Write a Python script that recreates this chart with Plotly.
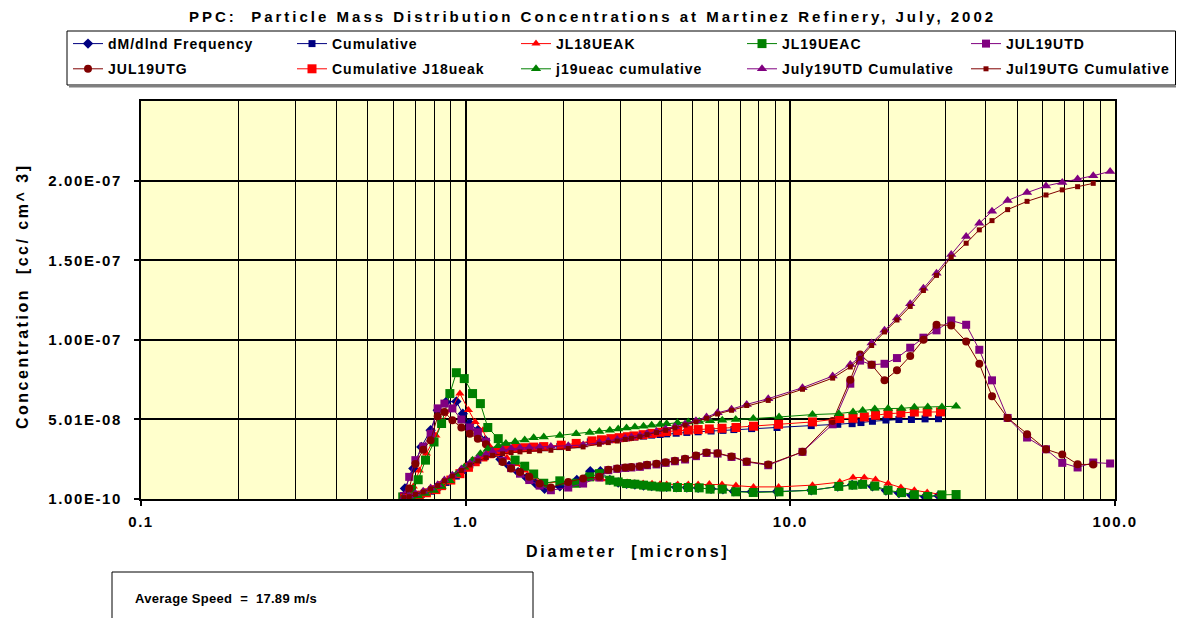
import plotly.graph_objects as go

# ---------------- data ----------------
DIAM_NAVY = [0.65, 0.69, 0.73, 0.78, 0.82, 0.87, 0.936, 0.98, 1.03, 1.09, 1.15, 1.21, 1.28, 1.36, 1.45, 1.54, 1.64, 1.75,
             1.95, 2.2, 2.42, 2.6, 2.78, 2.95, 3.13, 3.32, 3.53, 3.74, 3.97, 4.16, 4.45, 4.8, 5.2, 5.7, 6.2, 6.7, 7.6,
             9.1, 11.6, 14.0, 15.5, 16.5, 17.9, 19.7, 21.6, 23.6, 26.0, 28.6]
FREQ_DMDLND = [6.7e-9, 1.93e-8, 3.28e-8, 4.33e-8, 5.58e-8, 6.1e-8, 6.14e-8, 5.37e-8, 4.75e-8, 4.33e-8, 3.7e-8, 3.0e-8,
               2.5e-8, 2.1e-8, 1.7e-8, 1.35e-8, 1.0e-8, 6.5e-9,
               8e-9, 1.2e-8, 1.75e-8, 1.75e-8, 1.2e-8, 1.05e-8, 9.6e-9, 9.2e-9, 8.6e-9, 8.2e-9, 7.9e-9, 7.7e-9, 7.5e-9,
               7.3e-9, 7.1e-9, 6.5e-9, 6.2e-9, 5.0e-9, 4.6e-9, 4.8e-9, 5.6e-9, 7.9e-9, 9.0e-9, 9.6e-9, 8.0e-9, 5.4e-9,
               3.8e-9, 2.5e-9, 1.5e-9, 2.2e-9]
CUM_NAVY = [5e-10, 1.5e-9, 3e-9, 5e-9, 7.5e-9, 1.05e-8, 1.45e-8, 1.8e-8, 2.15e-8, 2.45e-8, 2.7e-8, 2.85e-8, 2.97e-8,
            3.06e-8, 3.13e-8, 3.18e-8, 3.21e-8, 3.23e-8,
            3.3e-8, 3.42e-8, 3.6e-8, 3.7e-8, 3.75e-8, 3.8e-8, 3.85e-8, 3.9e-8, 3.96e-8, 4.02e-8, 4.06e-8, 4.1e-8,
            4.14e-8, 4.19e-8, 4.23e-8, 4.28e-8, 4.32e-8, 4.37e-8, 4.43e-8, 4.5e-8, 4.62e-8, 4.7e-8, 4.74e-8, 4.81e-8,
            4.89e-8, 4.97e-8, 5.0e-8, 5.0e-8, 5.04e-8, 5.05e-8]

DIAM_J18 = [0.65, 0.69, 0.72, 0.757, 0.81, 0.843, 0.90, 0.96, 1.02, 1.07, 1.13, 1.185, 1.26, 1.34, 1.43, 1.52, 1.62, 1.74,
            1.97, 2.19, 2.45, 2.62, 2.8, 2.97, 3.15, 3.3, 3.52, 3.75, 3.97, 4.16, 4.5, 4.85, 5.2, 5.63, 6.16, 6.8, 7.7,
            9.2, 11.7, 14.2, 15.6, 16.9, 18.3, 20.0, 21.9, 24.1, 26.4, 29.0]
FREQ_JL18UEAK = [3e-9, 8e-9, 1.8e-8, 2.87e-8, 4.0e-8, 4.85e-8, 5.6e-8, 6.63e-8, 5.6e-8, 4.85e-8, 4.33e-8, 3.32e-8,
                 3.07e-8, 2.6e-8, 2.2e-8, 1.8e-8, 1.4e-8, 1.0e-8,
                 1.1e-8, 1.05e-8, 1.3e-8, 1.25e-8, 1.15e-8, 1.1e-8, 1.05e-8, 1.0e-8, 9.8e-9, 9.6e-9, 9.4e-9, 9.2e-9,
                 9.2e-9, 9.2e-9, 9.2e-9, 9.5e-9, 9.2e-9, 8.5e-9, 7.7e-9, 7.7e-9, 8.8e-9, 1.07e-8, 1.36e-8, 1.36e-8,
                 1.23e-8, 9.8e-9, 7.3e-9, 5.6e-9, 4.2e-9, 3.0e-9]
CUM_J18 = [5e-10, 1.2e-9, 2.5e-9, 4e-9, 6e-9, 8.5e-9, 1.2e-8, 1.6e-8, 2.0e-8, 2.35e-8, 2.65e-8, 2.85e-8, 3.0e-8, 3.1e-8,
           3.18e-8, 3.23e-8, 3.27e-8, 3.3e-8,
           3.39e-8, 3.5e-8, 3.66e-8, 3.73e-8, 3.8e-8, 3.86e-8, 3.92e-8, 3.97e-8, 4.05e-8, 4.13e-8, 4.2e-8, 4.25e-8,
           4.3e-8, 4.34e-8, 4.37e-8, 4.41e-8, 4.45e-8, 4.5e-8, 4.58e-8, 4.7e-8, 4.85e-8, 5.06e-8, 5.08e-8, 5.16e-8,
           5.27e-8, 5.37e-8, 5.41e-8, 5.47e-8, 5.47e-8, 5.48e-8]

DIAM_J19 = [0.64, 0.68, 0.714, 0.752, 0.799, 0.843, 0.894, 0.936, 0.99, 1.05, 1.11, 1.17, 1.26, 1.33, 1.42, 1.52, 1.62,
            1.74, 1.95, 2.19, 2.41, 2.58, 2.78, 2.95, 3.13, 3.32, 3.53, 3.74, 3.97, 4.16, 4.49, 4.85, 5.24, 5.66, 6.17,
            6.79, 7.69, 9.23, 11.7, 14.1, 15.6, 16.7, 18.2, 20.0, 22.0, 24.1, 26.5, 29.3, 32.4]
FREQ_JL19UEAC = [1.4e-9, 6.1e-9, 1.22e-8, 2.45e-8, 3.59e-8, 4.75e-8, 6.63e-8, 7.94e-8, 7.57e-8, 6.63e-8, 6.0e-8, 4.5e-8,
                 3.8e-8, 3.28e-8, 2.45e-8, 2.07e-8, 1.58e-8, 1.0e-8, 1.15e-8, 1.0e-8, 1.4e-8, 1.6e-8,
                 1.19e-8, 1.08e-8, 9.8e-9, 9.4e-9, 8.8e-9, 8.2e-9, 7.7e-9, 7.7e-9, 7.3e-9, 7.3e-9, 7.1e-9, 6.3e-9,
                 6.3e-9, 4.6e-9, 4.2e-9, 4.6e-9, 5.6e-9, 8.0e-9, 8.8e-9, 9.3e-9, 8.2e-9, 5.6e-9, 4.1e-9, 2.8e-9,
                 1.7e-9, 2.7e-9, 2.9e-9]
CUM_J19 = [5e-10, 1e-9, 2e-9, 3.5e-9, 5.5e-9, 8e-9, 1.15e-8, 1.55e-8, 2.0e-8, 2.45e-8, 2.85e-8, 3.15e-8, 3.35e-8, 3.5e-8,
           3.6e-8, 3.72e-8, 3.85e-8, 3.9e-8, 4.0e-8, 4.1e-8, 4.18e-8, 4.25e-8,
           4.33e-8, 4.4e-8, 4.47e-8, 4.53e-8, 4.58e-8, 4.64e-8, 4.69e-8, 4.74e-8, 4.8e-8, 4.85e-8, 4.88e-8, 4.92e-8,
           4.96e-8, 5.0e-8, 5.06e-8, 5.16e-8, 5.31e-8, 5.37e-8, 5.47e-8, 5.56e-8, 5.66e-8, 5.69e-8, 5.7e-8, 5.77e-8,
           5.78e-8, 5.79e-8, 5.83e-8]

DIAM_UTD = [0.645, 0.67, 0.70, 0.74, 0.78, 0.82, 0.86, 0.91, 0.97, 1.03, 1.09, 1.155, 1.21, 1.30, 1.38, 1.47, 1.57,
            1.69, 1.83, 2.07, 2.30, 2.58, 2.75, 2.93, 3.10, 3.24, 3.44, 3.62, 3.87, 4.13, 4.41, 4.74, 5.12, 5.52, 5.97,
            6.59, 7.34, 8.55, 10.9, 13.5, 15.3, 16.4, 17.8, 19.5, 21.3, 23.4, 25.7, 28.2, 31.3, 34.8, 38.2, 41.8,
            46.7, 53.6, 61.3, 68.8, 76.7, 85.7, 96.6]
FREQ_JUL19UTD = [2e-9, 1.4e-8, 2.45e-8, 3.3e-8, 4.1e-8, 5.7e-8, 6.0e-8, 5.7e-8, 5.0e-8, 4.5e-8, 4.2e-8, 3.6e-8, 3.0e-8,
                 2.4e-8, 1.95e-8, 1.6e-8, 1.2e-8, 8.5e-9, 5.6e-9, 7.3e-9, 9.8e-9, 1.36e-8, 1.82e-8, 1.9e-8, 1.96e-8,
                 1.99e-8, 2.03e-8, 2.13e-8, 2.18e-8, 2.28e-8, 2.38e-8, 2.49e-8, 2.7e-8, 2.9e-8, 2.86e-8, 2.65e-8,
                 2.34e-8, 2.13e-8, 2.97e-8, 4.7e-8, 7.25e-8, 8.7e-8, 8.44e-8, 8.5e-8, 8.86e-8, 9.51e-8, 1.014e-7,
                 1.06e-7, 1.122e-7, 1.095e-7, 9.38e-8, 7.46e-8, 5.1e-8, 3.87e-8, 3.13e-8, 2.28e-8, 1.99e-8, 2.3e-8,
                 2.24e-8]
CUM_UTD = [1e-9, 2e-9, 3.5e-9, 5e-9, 7e-9, 9e-9, 1.2e-8, 1.5e-8, 1.9e-8, 2.25e-8, 2.55e-8, 2.8e-8, 2.97e-8, 3.1e-8,
           3.18e-8, 3.22e-8, 3.25e-8, 3.28e-8, 3.3e-8, 3.35e-8, 3.4e-8, 3.55e-8, 3.65e-8, 3.75e-8, 3.83e-8, 3.9e-8,
           4.0e-8, 4.12e-8, 4.25e-8, 4.4e-8, 4.55e-8, 4.72e-8, 4.92e-8, 5.16e-8, 5.42e-8, 5.65e-8, 5.95e-8, 6.31e-8,
           7.0e-8, 7.73e-8, 8.45e-8, 8.92e-8, 9.8e-8, 1.06e-7, 1.137e-7, 1.227e-7, 1.325e-7, 1.419e-7, 1.536e-7,
           1.649e-7, 1.732e-7, 1.808e-7, 1.875e-7, 1.925e-7, 1.967e-7, 1.988e-7, 2.011e-7, 2.031e-7, 2.058e-7]

DIAM_UTG = [0.645, 0.67, 0.70, 0.74, 0.78, 0.82, 0.86, 0.91, 0.97, 1.03, 1.09, 1.155, 1.21, 1.30, 1.38, 1.47, 1.57,
            1.69, 1.83, 2.07, 2.30, 2.58, 2.75, 2.93, 3.10, 3.24, 3.44, 3.62, 3.87, 4.13, 4.41, 4.74, 5.12, 5.52, 5.97,
            6.59, 7.34, 8.55, 10.9, 13.5, 15.3, 16.4, 17.8, 19.5, 21.3, 23.4, 25.7, 28.2, 31.3, 34.8, 38.2, 41.8,
            46.7, 53.6, 61.3, 68.8, 76.7, 85.7]
FREQ_JUL19UTG = [1.4e-9, 6.7e-9, 2.2e-8, 3.1e-8, 3.7e-8, 5.2e-8, 5.47e-8, 4.95e-8, 4.5e-8, 4.1e-8, 3.8e-8, 3.45e-8,
                 2.87e-8, 2.34e-8, 1.92e-8, 1.71e-8, 1.4e-8, 9.8e-9, 7.3e-9, 1.08e-8, 1.3e-8, 1.4e-8, 1.85e-8, 1.93e-8,
                 1.99e-8, 2.02e-8, 2.07e-8, 2.16e-8, 2.22e-8, 2.31e-8, 2.41e-8, 2.53e-8, 2.74e-8, 2.93e-8, 2.89e-8,
                 2.68e-8, 2.37e-8, 2.18e-8, 2.97e-8, 4.91e-8, 7.5e-8, 9.09e-8, 8.44e-8, 7.46e-8, 8.09e-8, 8.99e-8,
                 1.001e-7, 1.095e-7, 1.091e-7, 9.9e-8, 8.5e-8, 6.46e-8, 5.1e-8, 4.08e-8, 3.13e-8, 2.8e-8, 2.19e-8,
                 2.17e-8]
CUM_UTG = [1e-9, 1.5e-9, 3e-9, 4.5e-9, 6.5e-9, 8.5e-9, 1.15e-8, 1.45e-8, 1.8e-8, 2.15e-8, 2.4e-8, 2.6e-8, 2.75e-8,
           2.85e-8, 2.92e-8, 2.97e-8, 3.0e-8, 3.04e-8, 3.07e-8, 3.18e-8, 3.28e-8, 3.45e-8, 3.55e-8, 3.65e-8, 3.75e-8,
           3.82e-8, 3.92e-8, 4.05e-8, 4.18e-8, 4.32e-8, 4.48e-8, 4.65e-8, 4.85e-8, 5.08e-8, 5.35e-8, 5.58e-8,
           5.88e-8, 6.2e-8, 6.9e-8, 7.6e-8, 8.3e-8, 8.85e-8, 9.65e-8, 1.05e-7, 1.125e-7, 1.21e-7, 1.31e-7, 1.405e-7,
           1.52e-7, 1.607e-7, 1.691e-7, 1.749e-7, 1.818e-7, 1.87e-7, 1.91e-7, 1.942e-7, 1.962e-7, 1.983e-7]

Y_TICK_VALS = [1.0e-10, 5.01e-8, 1.0001e-7, 1.5001e-7, 2.0001e-7]
Y_TICK_TEXT = ["1.00E-10", "5.01E-08", "1.00E-07", "1.50E-07", "2.00E-07"]
Y_RANGE = [1.0e-10, 2.5001e-7]
X_TICK_VALS = [0.1, 1.0, 10.0, 100.0]
X_TICK_TEXT = ["0.1", "1.0", "10.0", "100.0"]

TITLE = "PPC:  Particle Mass Distribution Concentrations at Martinez Refinery, July, 2002"
X_TITLE = "Diameter  [microns]"
Y_TITLE = "Concentration  [cc/ cm^ 3]"
NOTE = "Average Speed  =  17.89 m/s"

# ---------------- styling ----------------
FONT = "Liberation Sans, Arial, sans-serif"
OFF = 8                       # page body margin on every side
W, H = 1184 - 2 * OFF, 626 - 2 * OFF
PL, PR, PT, PB = 141, 1115, 101, 499   # plot area in page pixels


def sp(text, ls):
    return f'<span style="letter-spacing:{ls}px">{text}</span>'


def fx(p):
    return (p - PL) / (PR - PL)


def fy(p):
    return (PB - p) / (PB - PT)


NAVY, RED, GREEN, PURPLE, MAROON = "#000080", "#FF0000", "#008000", "#800080", "#800000"

series = [
    ("dM/dlnd Frequency", DIAM_NAVY, FREQ_DMDLND, NAVY, "diamond", 8),
    ("Cumulative", DIAM_NAVY, CUM_NAVY, NAVY, "square", 7),
    ("JL18UEAK", DIAM_J18, FREQ_JL18UEAK, RED, "triangle-up", 8),
    ("JL19UEAC", DIAM_J19, FREQ_JL19UEAC, GREEN, "square", 9),
    ("JUL19UTD", DIAM_UTD, FREQ_JUL19UTD, PURPLE, "square", 8),
    ("JUL19UTG", DIAM_UTG, FREQ_JUL19UTG, MAROON, "circle", 8),
    ("Cumulative J18ueak", DIAM_J18, CUM_J18, RED, "square", 9),
    ("j19ueac cumulative", DIAM_J19, CUM_J19, GREEN, "triangle-up", 9),
    ("July19UTD Cumulative", DIAM_UTD, CUM_UTD, PURPLE, "triangle-up", 9),
    ("Jul19UTG Cumulative", DIAM_UTG, CUM_UTG, MAROON, "square", 5),
]

fig = go.Figure()
for i, (name, xs, ys, col, sym, size) in enumerate(series):
    leg = "legend" if i % 5 == 0 else f"legend{i % 5 + 1}"
    fig.add_trace(go.Scatter(
        x=xs, y=ys, name=sp(name, 1.0), mode="lines+markers",
        line=dict(color=col, width=1),
        marker=dict(symbol=sym, size=size, color=col, line=dict(width=0)),
        legend=leg, legendgroup=name,
    ))

# (page x, anchor) of each legend column
col_pos = [(68, "left"), (292, "left"), (516, "left"), (742, "left"), (1175, "right")]
legend_common = dict(
    yanchor="top", y=fy(28), bgcolor="rgba(0,0,0,0)", borderwidth=0,
    font=dict(family=FONT, size=14, color="black", weight="bold"), tracegroupgap=4,
    itemwidth=30, orientation="v",
)
layout_legends = {}
for k, (lx, anc) in enumerate(col_pos):
    key = "legend" if k == 0 else f"legend{k + 1}"
    layout_legends[key] = dict(legend_common, x=fx(lx), xanchor=anc)

fig.update_layout(
    width=W, height=H, autosize=False,
    margin=dict(l=PL - OFF, r=W - (PR - OFF), t=PT - OFF, b=H - (PB - OFF), pad=0, autoexpand=False),
    paper_bgcolor="white", plot_bgcolor="#FFFFCC",
    showlegend=True,
    font=dict(family=FONT, color="black"),
    **layout_legends,
)

fig.update_xaxes(
    type="log", range=[-1, 2], automargin=False,
    tickvals=X_TICK_VALS, ticktext=[sp(t, 1.5) for t in X_TICK_TEXT],
    tickfont=dict(family=FONT, size=15, color="black", weight="bold"),
    ticks="outside", ticklen=5, tickwidth=2, tickcolor="black", ticklabelstandoff=3,
    showgrid=True, gridcolor="black", gridwidth=2,
    minor=dict(tickvals=[v * m for v in [0.1, 1, 10] for m in range(2, 10)],
               showgrid=True, gridcolor="black", gridwidth=1, ticks=""),
    showline=True, linecolor="black", linewidth=2, mirror=True,
    zeroline=False,
)
fig.update_yaxes(
    range=Y_RANGE, automargin=False, tickvals=Y_TICK_VALS, ticktext=[sp(t, 1.6) for t in Y_TICK_TEXT],
    tickfont=dict(family=FONT, size=15, color="black", weight="bold"),
    ticks="outside", ticklen=5, tickwidth=2, tickcolor="black", ticklabelstandoff=9,
    showgrid=True, gridcolor="black", gridwidth=2,
    showline=True, linecolor="black", linewidth=2, mirror=True,
    zeroline=False,
)

# legend frame
fig.add_shape(type="rect", xref="paper", yref="paper",
              x0=fx(67), x1=fx(1175.5), y0=fy(85), y1=fy(31),
              line=dict(color="black", width=1), fillcolor="rgba(0,0,0,0)", layer="below")
fig.add_shape(type="line", xref="paper", yref="paper",
              x0=fx(69), x1=fx(1176), y0=fy(86.5), y1=fy(86.5),
              line=dict(color="#808080", width=2))
# note frame
fig.add_shape(type="rect", xref="paper", yref="paper",
              x0=fx(112), x1=fx(533), y0=fy(640), y1=fy(572),
              line=dict(color="black", width=1), fillcolor="white")

fig.add_annotation(text=sp(TITLE, 3.0), xref="paper", yref="paper", x=fx(592), y=fy(16),
                   xanchor="center", yanchor="middle", showarrow=False,
                   font=dict(family=FONT, size=15, color="black", weight="bold"))
fig.add_annotation(text=sp(X_TITLE, 2.8), xref="paper", yref="paper", x=fx(627), y=fy(551),
                   xanchor="center", yanchor="middle", showarrow=False,
                   font=dict(family=FONT, size=16, color="black", weight="bold"))
fig.add_annotation(text=sp(Y_TITLE, 2.5), xref="paper", yref="paper", x=fx(22), y=fy(296),
                   xanchor="center", yanchor="middle", showarrow=False, textangle=-90,
                   font=dict(family=FONT, size=16, color="black", weight="bold"))
fig.add_annotation(text=sp(NOTE, 0.3), xref="paper", yref="paper", x=fx(133), y=fy(598),
                   xanchor="left", yanchor="middle", showarrow=False,
                   font=dict(family=FONT, size=13, color="black", weight="bold"))

fig.write_html("out.html")
